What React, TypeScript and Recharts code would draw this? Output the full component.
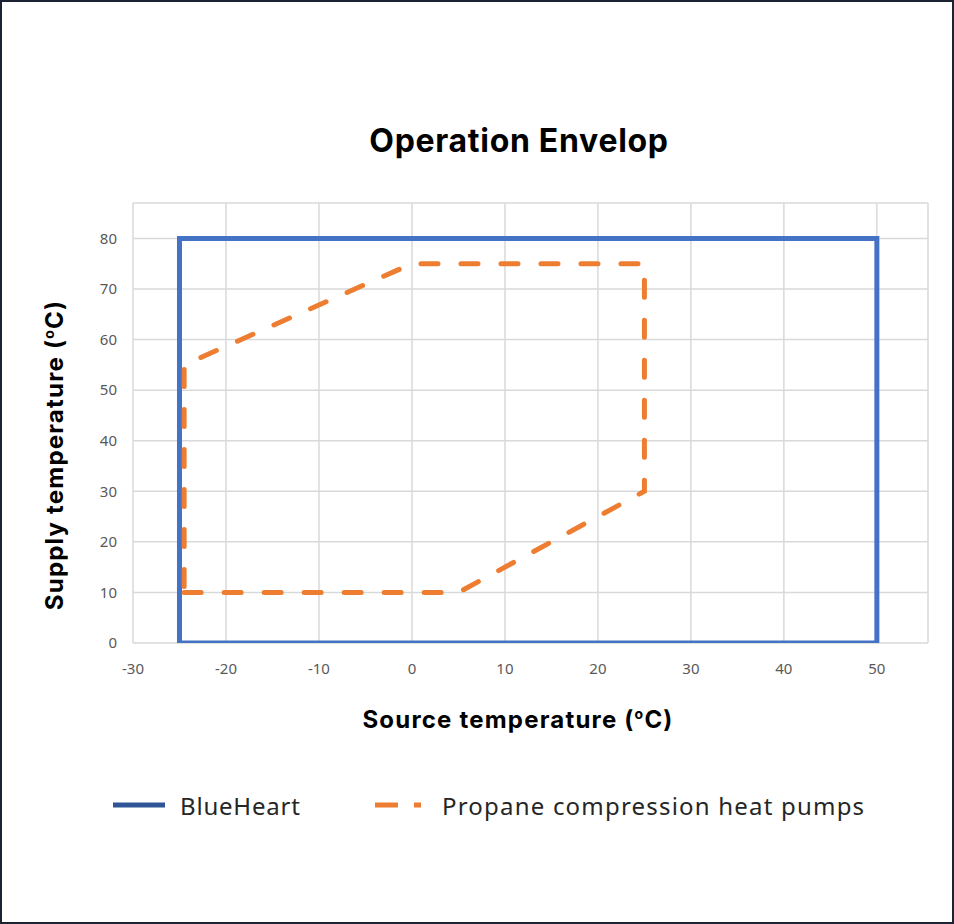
import React from 'react';
import { ScatterChart, Scatter, XAxis, YAxis, CartesianGrid } from 'recharts';

// source temperature (x) and supply temperature (y), degC
const blueHeartX = [-25, -25, 50, 50, -25];
const blueHeartY = [0, 80, 80, 0, 0];

const propaneX = [-24.5, 5, 25, 25, 0, -24.5, -24.5];
const propaneY = [10, 10, 30, 75, 75, 55, 10];

const xTicks = [-30, -20, -10, 0, 10, 20, 30, 40, 50];
const yTicks = [0, 10, 20, 30, 40, 50, 60, 70, 80];

const BLUE = '#4472C4';
const ORANGE = '#ED7D31';

const blueHeartData = blueHeartX.map((x, i) => ({ x, y: blueHeartY[i] }));
const propaneData = propaneX.map((x, i) => ({ x, y: propaneY[i] }));

const noDot = () => <g />;

const boldFont = 'Inter, "Noto Sans", sans-serif';
const textFont = '"Noto Sans", Inter, sans-serif';

if (typeof document !== 'undefined') {
  document.body.style.margin = '0';
}

const App: React.FC = () => {
  return (
    <div style={{ position: 'relative', width: 954, height: 924, background: '#fff' }}>
      <ScatterChart
        width={954}
        height={924}
        margin={{ top: 203, right: 26, left: 83, bottom: 241 }}
      >
        <CartesianGrid stroke="#d9d9d9" strokeWidth={1.5} />
        <XAxis
          type="number"
          dataKey="x"
          domain={[-30, 55.5]}
          ticks={xTicks}
          height={40}
          axisLine={false}
          tickLine={false}
          tickMargin={14}
          tick={{ fill: '#595959', fontSize: 15, fontFamily: textFont }}
          allowDataOverflow
        />
        <YAxis
          type="number"
          dataKey="y"
          domain={[0, 87]}
          ticks={yTicks}
          width={50}
          axisLine={false}
          tickLine={false}
          tickMargin={10}
          tick={{ fill: '#595959', fontSize: 15, fontFamily: textFont }}
          allowDataOverflow
        />
        <Scatter
          name="BlueHeart"
          data={blueHeartData}
          fill={BLUE}
          shape={noDot}
          line={{ stroke: BLUE, strokeWidth: 5, strokeLinecap: 'square', strokeLinejoin: 'miter' }}
          isAnimationActive={false}
        />
        <Scatter
          name="Propane compression heat pumps"
          data={propaneData}
          fill={ORANGE}
          shape={noDot}
          line={{ stroke: ORANGE, strokeWidth: 5, strokeDasharray: '17 23', strokeLinecap: 'round' }}
          isAnimationActive={false}
        />
      </ScatterChart>

      {/* title */}
      <div
        style={{
          position: 'absolute', left: 0, width: 1038, top: 121, textAlign: 'center',
          fontFamily: boldFont, fontWeight: 700, fontSize: 32, letterSpacing: 0.7, color: '#000',
        }}
      >
        Operation Envelop
      </div>

      {/* x axis title */}
      <div
        style={{
          position: 'absolute', left: 0, width: 1036, top: 705, textAlign: 'center',
          fontFamily: boldFont, fontWeight: 700, fontSize: 24, letterSpacing: 1.2, color: '#000',
        }}
      >
        Source temperature (<sup style={{ fontSize: 14 }}>o</sup>C)
      </div>

      {/* y axis title */}
      <div
        style={{
          position: 'absolute', left: 52, top: 455, width: 400, marginLeft: -200,
          textAlign: 'center', transform: 'translateY(-50%) rotate(-90deg)',
          fontFamily: boldFont, fontWeight: 700, fontSize: 24, letterSpacing: 1.2, color: '#000', lineHeight: '30px',
        }}
      >
        Supply temperature (<sup style={{ fontSize: 14 }}>o</sup>C)
      </div>

      {/* legend */}
      <div style={{ position: 'absolute', left: 113, top: 790, height: 30, display: 'flex', alignItems: 'center', fontFamily: textFont, fontSize: 24, letterSpacing: 0.8, color: '#262626' }}>
        <svg width={52} height={10} style={{ marginRight: 15 }}>
          <line x1={0} y1={5} x2={52} y2={5} stroke="#2F5597" strokeWidth={5} />
        </svg>
        <span>BlueHeart</span>
      </div>
      <div style={{ position: 'absolute', left: 375, top: 790, height: 30, display: 'flex', alignItems: 'center', fontFamily: textFont, fontSize: 24, letterSpacing: 1.2, color: '#262626' }}>
        <svg width={52} height={10} style={{ marginRight: 15 }}>
          <line x1={0} y1={5} x2={46} y2={5} stroke={ORANGE} strokeWidth={5} strokeDasharray="23 16" />
        </svg>
        <span>Propane compression heat pumps</span>
      </div>

      {/* frame */}
      <div style={{ position: 'absolute', inset: 0, border: '2px solid #1c2333', pointerEvents: 'none' }} />
    </div>
  );
};

export default App;
